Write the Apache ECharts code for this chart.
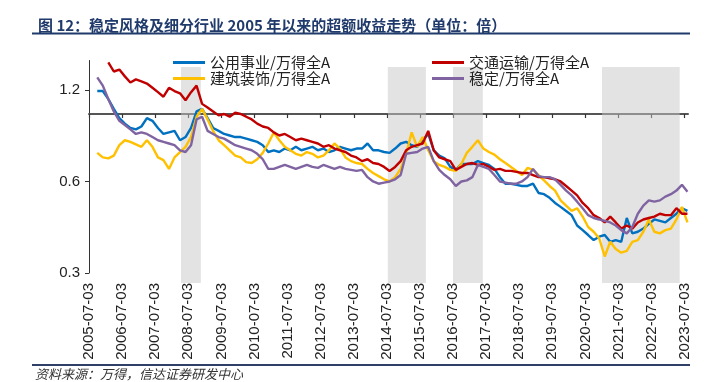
<!DOCTYPE html>
<html><head><meta charset="utf-8">
<script src="https://cdn.jsdelivr.net/npm/echarts@6/dist/echarts.min.js"></script>
<style>html,body{margin:0;padding:0;background:#fff}#c{width:704px;height:382px}</style>
</head><body><div id="c"></div>
<script>
// time axis: bi-monthly sample points (decimal years), 2005-10 .. 2023-08
const t = [];
for (let i = 0; i < 108; i++) t.push(2005.75 + i / 6);

const tickYears = [2005.5,2006.5,2007.5,2008.5,2009.5,2010.5,2011.5,2012.5,2013.5,2014.5,2015.5,2016.5,2017.5,2018.5,2019.5,2020.5,2021.5,2022.5,2023.5];
const yTicks = [0.3, 0.6, 1.2];
const bandStart = [2008.28, 2014.53, 2016.5, 2021.0];
const bandEnd   = [2008.88, 2015.68, 2017.4, 2023.35];

const names = ['公用事业/万得全A','交通运输/万得全A','建筑装饰/万得全A','稳定/万得全A'];

const utilities = [1.19,1.19,1.12,1.04,0.97,0.93,0.9,0.89,0.91,0.97,0.95,0.9,0.86,0.87,0.88,0.82,0.84,0.9,1.02,1.04,
0.97,0.9,0.88,0.86,0.85,0.84,0.84,0.83,0.82,0.81,0.79,0.75,0.76,0.75,0.77,0.76,0.78,0.76,0.77,0.78,
0.76,0.77,0.75,0.76,0.78,0.77,0.76,0.77,0.77,0.8,0.76,0.76,0.75,0.745,0.77,0.8,0.81,0.79,0.78,0.82,
0.86,0.76,0.73,0.715,0.67,0.655,0.685,0.685,0.685,0.7,0.69,0.68,0.66,0.62,0.59,0.59,0.585,0.58,0.58,0.59,
0.55,0.545,0.53,0.51,0.495,0.48,0.465,0.43,0.415,0.4,0.385,0.395,0.4,0.38,0.385,0.38,0.455,0.405,0.41,0.42,
0.435,0.45,0.445,0.44,0.455,0.47,0.49,0.48];

const transport = [null,null,1.48,1.38,1.40,1.33,1.27,1.30,1.28,1.26,1.22,1.18,1.14,1.22,1.19,1.17,1.11,1.18,1.24,1.08,
1.05,1.02,0.99,1.0,0.98,1.01,1.0,0.98,0.96,0.93,0.91,0.9,0.87,0.85,0.86,0.84,0.82,0.83,0.82,0.81,
0.8,0.78,0.79,0.77,0.76,0.75,0.73,0.72,0.70,0.71,0.69,0.685,0.67,0.65,0.67,0.7,0.76,0.78,0.79,0.8,
0.88,0.76,0.72,0.71,0.70,0.655,0.67,0.685,0.69,0.68,0.685,0.67,0.655,0.66,0.65,0.65,0.645,0.64,0.64,0.63,
0.62,0.62,0.615,0.61,0.6,0.58,0.56,0.54,0.51,0.49,0.465,0.455,0.44,0.46,0.44,0.42,0.43,0.42,0.44,0.45,
0.455,0.46,0.47,0.465,0.465,0.49,0.47,0.47];

const construction = [0.745,0.72,0.715,0.73,0.79,0.82,0.81,0.795,0.78,0.82,0.78,0.72,0.705,0.66,0.72,0.75,0.78,0.84,0.98,1.04,
0.96,0.88,0.82,0.79,0.76,0.73,0.72,0.695,0.69,0.71,0.745,0.8,0.87,0.82,0.78,0.76,0.74,0.73,0.75,0.74,
0.72,0.73,0.76,0.8,0.77,0.72,0.7,0.69,0.685,0.66,0.64,0.625,0.61,0.6,0.62,0.66,0.74,0.87,0.78,0.84,
0.76,0.7,0.68,0.67,0.655,0.65,0.685,0.745,0.78,0.82,0.77,0.75,0.735,0.71,0.69,0.67,0.65,0.63,0.665,0.655,
0.63,0.605,0.58,0.56,0.52,0.5,0.48,0.49,0.46,0.425,0.41,0.39,0.34,0.38,0.36,0.35,0.355,0.38,0.385,0.41,
0.45,0.41,0.405,0.415,0.42,0.45,0.495,0.44];

const stable = [1.32,1.24,1.12,1.02,0.95,0.92,0.89,0.86,0.87,0.86,0.84,0.82,0.81,0.8,0.79,0.76,0.75,0.79,0.96,0.98,
0.88,0.86,0.84,0.83,0.81,0.79,0.78,0.77,0.76,0.74,0.71,0.66,0.66,0.67,0.68,0.67,0.66,0.67,0.68,0.67,
0.665,0.68,0.67,0.66,0.67,0.66,0.655,0.65,0.655,0.62,0.6,0.59,0.595,0.6,0.61,0.63,0.74,0.745,0.75,0.77,
0.78,0.7,0.655,0.63,0.61,0.58,0.6,0.605,0.62,0.68,0.67,0.66,0.63,0.6,0.595,0.59,0.59,0.6,0.62,0.66,
0.625,0.62,0.62,0.61,0.585,0.56,0.54,0.515,0.49,0.465,0.455,0.45,0.445,0.44,0.43,0.415,0.405,0.425,0.47,0.5,
0.52,0.515,0.52,0.535,0.545,0.56,0.585,0.555];

const colors = ['#0070C0','#C00000','#FFC000','#8064A2'];
const values = [utilities, transport, construction, stable];
const order = [0, 2, 1, 3];

const chart = echarts.init(document.getElementById('c'), null, {renderer: 'canvas'});
const xMin = 2005.5, xMax = 2023.6;

const lineSeries = order.map(k => ({
  name: names[k], type: 'line', xAxisIndex: 0, yAxisIndex: 0,
  data: t.map((x, i) => [x, values[k][i]]),
  showSymbol: false, symbol: 'none',
  lineStyle: {color: colors[k], width: 2.4},
  itemStyle: {color: colors[k]},
  z: 2
}));

const bandSeries = {
  type: 'line', xAxisIndex: 2, yAxisIndex: 1, silent: true, z: 10,
  data: [[xMin, 0]], symbol: 'none', lineStyle: {opacity: 0},
  markArea: {
    silent: true,
    itemStyle: {color: 'rgba(200,200,200,0.5)'},
    data: bandStart.map((s, i) => [{xAxis: s}, {xAxis: bandEnd[i]}])
  }
};

const legendText = {fontSize: 15, color: '#222', fontFamily: '"Noto Sans CJK SC"', lineHeight: 14};

const option = {
  animation: false,
  backgroundColor: '#fff',
  title: {
    text: '图 12：稳定风格及细分行业 2005 年以来的超额收益走势（单位：倍）',
    left: 33, top: 13,
    textStyle: {fontSize: 15, fontWeight: 'bold', color: '#1F3A6B', fontFamily: '"Noto Sans CJK SC"'}
  },
  legend: [
    {left: 168, top: 50, orient: 'vertical', itemGap: 1, icon: 'rect', itemWidth: 32, itemHeight: 3,
     data: [names[0], names[2]], textStyle: legendText, selectedMode: false},
    {left: 427, top: 50, orient: 'vertical', itemGap: 1, icon: 'rect', itemWidth: 32, itemHeight: 3,
     data: [names[1], names[3]], textStyle: legendText, selectedMode: false}
  ],
  grid: [
    {left: 89, right: 16, top: 60.5, bottom: 109},
    {left: 89, right: 16, top: 67, bottom: 99}
  ],
  xAxis: [
    {gridIndex: 0, type: 'value', min: xMin, max: xMax,
     axisLine: {show: false, onZero: false}, axisTick: {show: false}, splitLine: {show: false},
     axisLabel: {customValues: tickYears, rotate: 90, margin: 10, fontSize: 15, color: '#222',
       fontFamily: '"Liberation Sans"', formatter: v => Math.round(v - 0.5) + '-07-03'}},
    {gridIndex: 0, type: 'value', min: xMin, max: xMax, position: 'bottom', offset: 0,
     axisLine: {show: true, onZero: false, lineStyle: {color: '#555', width: 2}},
     axisTick: {show: true, customValues: tickYears, length: 4, lineStyle: {color: '#333', width: 1.2}},
     axisLabel: {show: false}, splitLine: {show: false}},
    {gridIndex: 1, type: 'value', min: xMin, max: xMax, show: false}
  ],
  yAxis: [
    {gridIndex: 0, type: 'log', logBase: 2, min: 0.3, max: 1.5,
     axisLine: {show: true, lineStyle: {color: '#333', width: 1}},
     axisTick: {show: true, customValues: yTicks, length: 4, lineStyle: {color: '#333'}},
     axisLabel: {customValues: yTicks, margin: 9, fontSize: 15, color: '#222', fontFamily: '"Liberation Sans"',
       formatter: v => Number(v).toFixed(1)},
     splitLine: {show: false}, minorTick: {show: false}},
    {gridIndex: 1, type: 'value', min: 0, max: 1, show: false}
  ],
  graphic: [
    {type: 'line', shape: {x1: 32, y1: 33.5, x2: 690, y2: 33.5}, style: {stroke: '#1F3A6B', lineWidth: 1.8}, z: 100},
    {type: 'line', shape: {x1: 32, y1: 365, x2: 690, y2: 365}, style: {stroke: '#2F3F6A', lineWidth: 2}, z: 100},
    {type: 'text', left: 35, top: 368, z: 100,
     style: {text: '资料来源：万得，信达证券研发中心', font: 'italic 13px "Noto Sans CJK SC"', fill: '#333'}}
  ],
  series: lineSeries.concat([bandSeries])
};

chart.setOption(option);
const yOne = chart.convertToPixel({yAxisIndex: 0}, 1.0);
const yBottom = chart.convertToPixel({yAxisIndex: 0}, 0.3);
chart.setOption({xAxis: [{}, {offset: yOne - yBottom}, {}]});
</script></body></html>
